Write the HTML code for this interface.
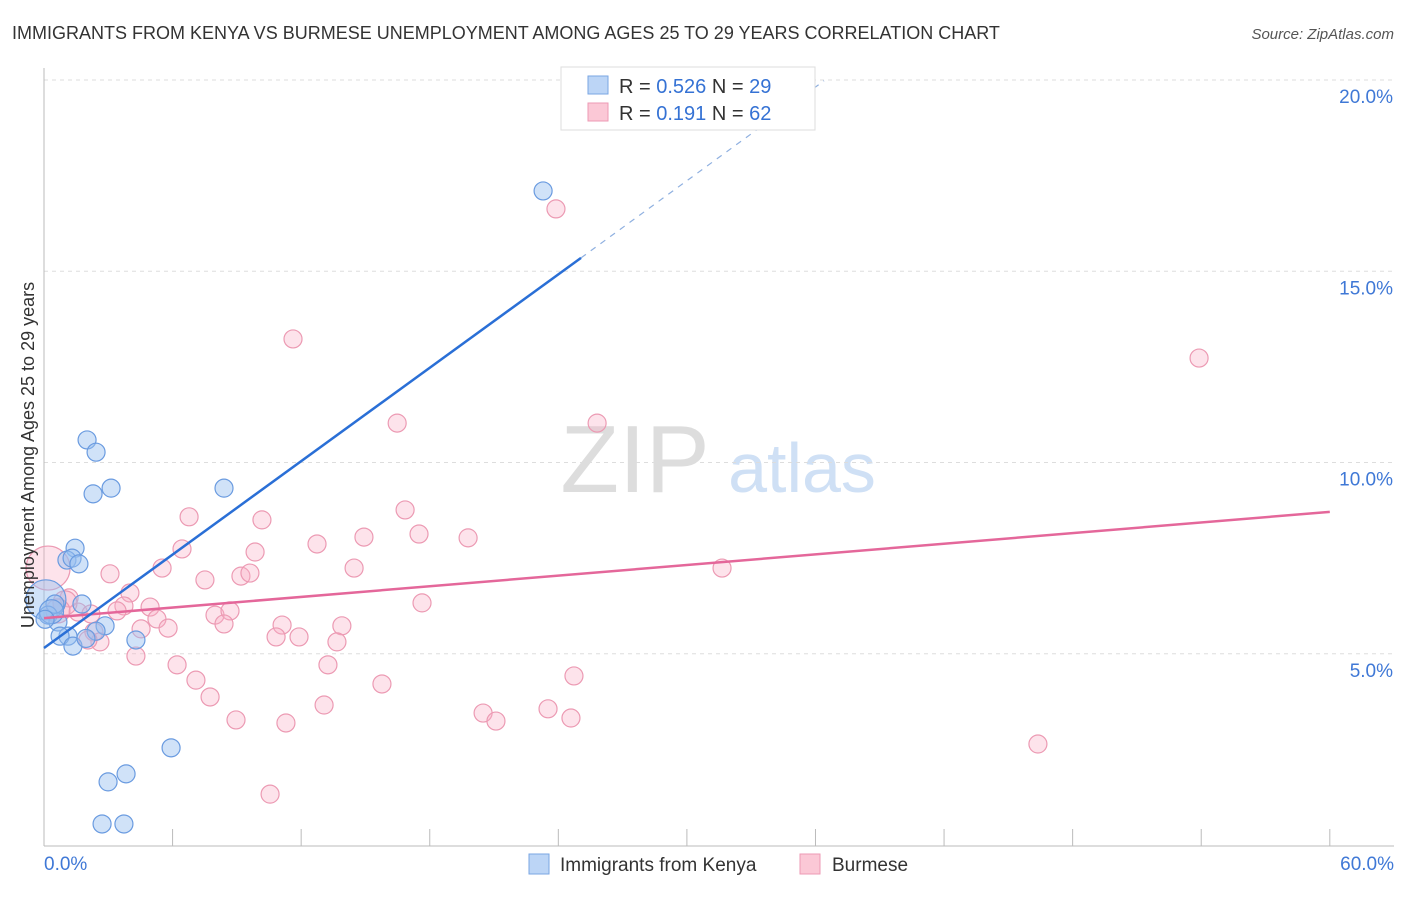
<!DOCTYPE html>
<html><head><meta charset="utf-8"><style>
body{margin:0;background:#fff;font-family:"Liberation Sans",sans-serif}
svg text{font-family:"Liberation Sans",sans-serif}
</style></head><body>
<svg width="1406" height="892" id="chart">
<text x="12" y="39" font-size="18" fill="#333">IMMIGRANTS FROM KENYA VS BURMESE UNEMPLOYMENT AMONG AGES 25 TO 29 YEARS CORRELATION CHART</text>
<text x="1394" y="39" font-size="15" fill="#555" text-anchor="end" font-style="italic">Source: ZipAtlas.com</text>
<text x="635" y="492" font-size="96" fill="#ddd" font-family="Liberation Serif" text-anchor="middle">ZIP</text>
<text x="802" y="492" font-size="70" fill="#cfe0f5" text-anchor="middle">atlas</text>
<g id="grid"></g>
<g id="marks"></g>
<text x="34" y="455" font-size="18" fill="#333" text-anchor="middle" transform="rotate(-90 34 455)">Unemployment Among Ages 25 to 29 years</text>
<g>
<rect x="561" y="67" width="254" height="63" fill="#fff" stroke="#ddd"/>
<rect x="588" y="76" width="20" height="18" fill="#bcd5f6" stroke="#7aa6e3"/>
<rect x="588" y="103" width="20" height="18" fill="#fbc8d6" stroke="#ee9ab4"/>
<text x="619" y="93" font-size="20" fill="#333">R = <tspan fill="#3572d4">0.526</tspan>   N = <tspan fill="#3572d4">29</tspan></text>
<text x="619" y="120" font-size="20" fill="#333">R =  <tspan fill="#3572d4"> 0.191</tspan>   N = <tspan fill="#3572d4">62</tspan></text>
</g>
<g>
<rect x="529" y="854" width="20" height="20" fill="#bcd5f6" stroke="#7aa6e3"/>
<text x="560" y="871" font-size="19" fill="#333">Immigrants from Kenya</text>
<rect x="800" y="854" width="20" height="20" fill="#fbc8d6" stroke="#ee9ab4"/>
<text x="832" y="871" font-size="19" fill="#333">Burmese</text>
</g>
</svg>
<script>
const yTicks=[5,10,15,20];
const yTickLabels=["5.0%","10.0%","15.0%","20.0%"];
const xTicks=[0,6,12,18,24,30,36,42,48,54,60];
const kenyaX=[23.29,2.01,2.43,2.29,3.13,8.4,1.45,1.07,1.31,1.63,0.09,0.51,1.77,0.19,0.65,1.12,0.75,2.85,2.43,1.35,4.29,5.93,2.99,3.83,2.71,3.73,0.35,0.05,1.96];
const kenyaY=[17.1,10.59,10.27,9.18,9.33,9.33,7.76,7.45,7.5,7.35,6.41,6.3,6.3,6.01,5.83,5.46,5.46,5.73,5.59,5.2,5.36,2.54,1.65,1.86,0.55,0.55,6.1,5.9,5.4];
const kenyaR=[9,9,9,9,9,9,9,9,9,9,20,9,9,9,9,9,9,9,9,9,9,9,9,9,9,9,12,9,9];
const burX=[23.89,11.62,53.9,16.48,25.81,6.77,10.17,16.85,17.5,14.93,19.79,12.74,6.44,9.85,3.08,5.51,14.47,31.64,7.51,9.19,9.61,4.01,1.17,3.73,4.95,17.64,3.41,7.98,8.68,1.59,2.19,5.27,11.11,13.9,5.79,8.4,4.53,10.83,11.9,13.67,2.33,2.61,2.05,4.29,6.21,13.25,7.09,24.73,15.77,7.75,13.07,20.49,23.52,8.96,21.09,24.59,11.29,46.38,10.55,0.19,0.98,0.65];
const burY=[16.63,13.23,12.73,11.03,11.03,8.58,8.5,8.76,8.13,8.05,8.03,7.87,7.74,7.66,7.09,7.24,7.24,7.24,6.93,7.03,7.11,6.59,6.46,6.25,6.22,6.33,6.12,6.01,6.12,6.09,6.04,5.91,5.75,5.73,5.67,5.78,5.65,5.44,5.44,5.31,5.57,5.31,5.36,4.94,4.71,4.71,4.31,4.42,4.21,3.87,3.66,3.45,3.56,3.27,3.24,3.32,3.19,2.64,1.33,7.24,6.33,6.12];
const burR=[9,9,9,9,9,9,9,9,9,9,9,9,9,9,9,9,9,9,9,9,9,9,9,9,9,9,9,9,9,9,9,9,9,9,9,9,9,9,9,9,9,9,9,9,9,9,9,9,9,9,9,9,9,9,9,9,9,9,9,22,12,12];
const kenyaLine=[0,5.15,25.06,15.35,36.4,19.98];
const burLine=[0,5.93,60,8.71];
const NS="http://www.w3.org/2000/svg";
const sx=v=>44+v*21.43, sy=v=>845-v*38.25;
function mk(t,a,p){const e=document.createElementNS(NS,t);for(const k in a)e.setAttribute(k,a[k]);p.appendChild(e);return e;}
const g=document.getElementById('grid'),m=document.getElementById('marks');
yTicks.forEach((t,i)=>{
 const l=mk('line',{x1:44,x2:1394,y1:sy(t),y2:sy(t),stroke:'#ddd','stroke-dasharray':'4,4'},g);
 
 const tx=mk('text',{x:1393,y:sy(t)+23,'font-size':19,fill:'#3f78d6','text-anchor':'end'},g);tx.textContent=yTickLabels[i];
 
});
const tl=mk('line',{x1:44,x2:1394,y1:sy(20),y2:sy(20),stroke:'#ddd','stroke-dasharray':'4,4'},g);

const ya=mk('line',{x1:44,x2:44,y1:68,y2:846,stroke:'#bbb'},g);

const xa=mk('line',{x1:44,x2:1394,y1:846,y2:846,stroke:'#bbb'},g);

xTicks.forEach(t=>{const l=mk('line',{x1:sx(t),x2:sx(t),y1:829,y2:846,stroke:'#bbb'},g);
 });
const x0=mk('text',{x:44,y:870,'font-size':19,fill:'#3f78d6'},g);x0.textContent="0.0%";

const x1=mk('text',{x:1394,y:870,'font-size':19,fill:'#3f78d6','text-anchor':'end'},g);x1.textContent="60.0%";

burX.forEach((v,i)=>{const c=mk('circle',{cx:sx(v),cy:sy(burY[i]),r:burR[i],fill:'rgba(248,175,198,0.35)',stroke:'#ec9ab3','stroke-width':1.2},m);
 });
kenyaX.forEach((v,i)=>{const c=mk('circle',{cx:sx(v),cy:sy(kenyaY[i]),r:kenyaR[i],fill:'rgba(150,190,240,0.45)',stroke:'#6a9be0','stroke-width':1.2},m);
 });
const bl=mk('line',{x1:sx(burLine[0]),y1:sy(burLine[1]),x2:sx(burLine[2]),y2:sy(burLine[3]),stroke:'#e4679a','stroke-width':2.5},m);

const kl=mk('line',{x1:sx(kenyaLine[0]),y1:sy(kenyaLine[1]),x2:sx(kenyaLine[2]),y2:sy(kenyaLine[3]),stroke:'#2a6fd6','stroke-width':2.5},m);

const kd=mk('line',{x1:sx(kenyaLine[2]),y1:sy(kenyaLine[3]),x2:sx(kenyaLine[4]),y2:sy(kenyaLine[5]),stroke:'#8fb0e0','stroke-width':1.2,'stroke-dasharray':'6,6'},m);

</script>
</body></html>
